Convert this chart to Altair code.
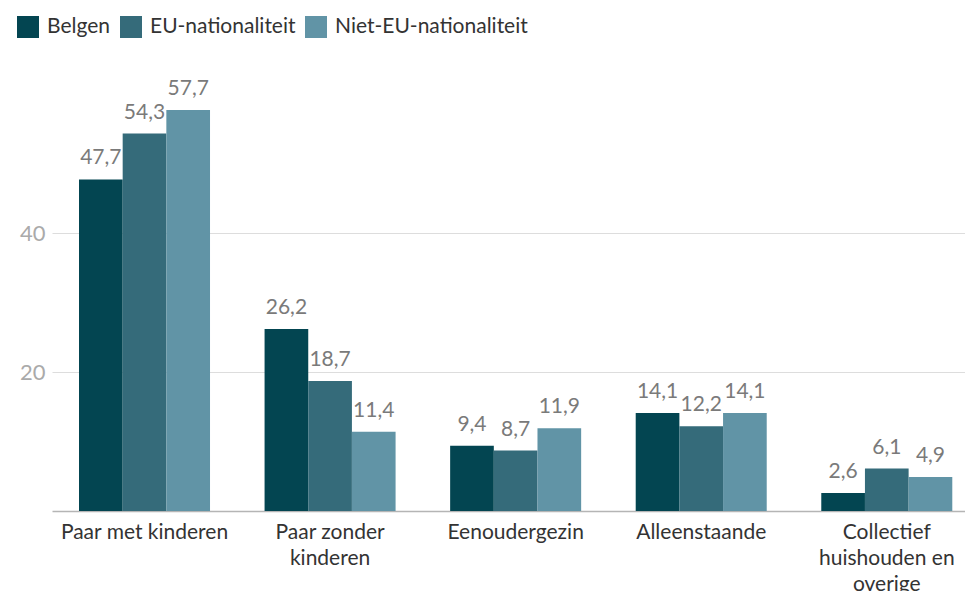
import altair as alt
import pandas as pd

categories = ["Paar met kinderen", "Paar zonder kinderen", "Eenoudergezin",
              "Alleenstaande", "Collectief huishouden en overige"]
cat_labels = ["Paar met kinderen", "Paar zonder|kinderen", "Eenoudergezin",
              "Alleenstaande", "Collectief|huishouden en|overige"]
series = ["Belgen", "EU-nationaliteit", "Niet-EU-nationaliteit"]
belgen = [47.7, 26.2, 9.4, 14.1, 2.6]
eu = [54.3, 18.7, 8.7, 12.2, 6.1]
niet_eu = [57.7, 11.4, 11.9, 14.1, 4.9]
colors = ["#034551", "#356b7a", "#6194a6"]

rows = []
for i, c in enumerate(categories):
    for s, vals in zip(series, [belgen, eu, niet_eu]):
        v = vals[i]
        rows.append({"cat": cat_labels[i], "serie": s, "waarde": v,
                     "txt": f"{v:.1f}".replace(".", ",")})
df = pd.DataFrame(rows)

FONT = "Lato"

x = alt.X("cat:N", sort=cat_labels, title=None,
          scale=alt.Scale(paddingInner=0.294, paddingOuter=0.107, align=0.68),
          axis=alt.Axis(labelAngle=0, labelExpr="split(datum.label, '|')",
                        labelFontSize=21, labelColor="#333333", labelFont=FONT,
                        labelLineHeight=26, labelPadding=10, ticks=False,
                        domainColor="#b5b5b5", domainWidth=1.5, labelLimit=300,
                        grid=False))
xo = alt.XOffset("serie:N", sort=series, scale=alt.Scale(paddingInner=0, paddingOuter=0))
y = alt.Y("waarde:Q", title=None,
          scale=alt.Scale(domain=[0, 60], nice=False),
          axis=alt.Axis(values=[20, 40], domain=False, ticks=False,
                        labelFontSize=22, labelColor="#aaaaaa", labelFont=FONT,
                        labelPadding=7, gridColor="#dddddd", gridWidth=1.2))

bars = alt.Chart(df).mark_bar().encode(
    x=x, xOffset=xo, y=y,
    color=alt.Color("serie:N", sort=series, title=None,
                    scale=alt.Scale(domain=series, range=colors),
                    legend=alt.Legend(orient="none", legendX=-35, legendY=-78,
                                      direction="horizontal", symbolType="square",
                                      symbolSize=484, symbolStrokeWidth=0,
                                      labelFontSize=21, labelFont=FONT,
                                      labelColor="#333333", labelOffset=8,
                                      labelLimit=400,
                                      columnPadding=9, padding=0)),
)

labels = alt.Chart(df).mark_text(baseline="alphabetic", dy=-15, fontSize=21,
                                 font=FONT, color="#7a7a7a").encode(
    x=alt.X("cat:N", sort=cat_labels), xOffset=alt.XOffset("serie:N", sort=series),
    y="waarde:Q", text="txt:N")

chart = (bars + labels).properties(
    width=913, height=417,
    background="white",
    autosize=alt.AutoSizeParams(type="none"),
    padding={"left": 44, "top": 86, "right": 0, "bottom": 80},
).configure_view(stroke=None)

chart.save("out.html", embed_options={"renderer": "svg", "actions": False})
